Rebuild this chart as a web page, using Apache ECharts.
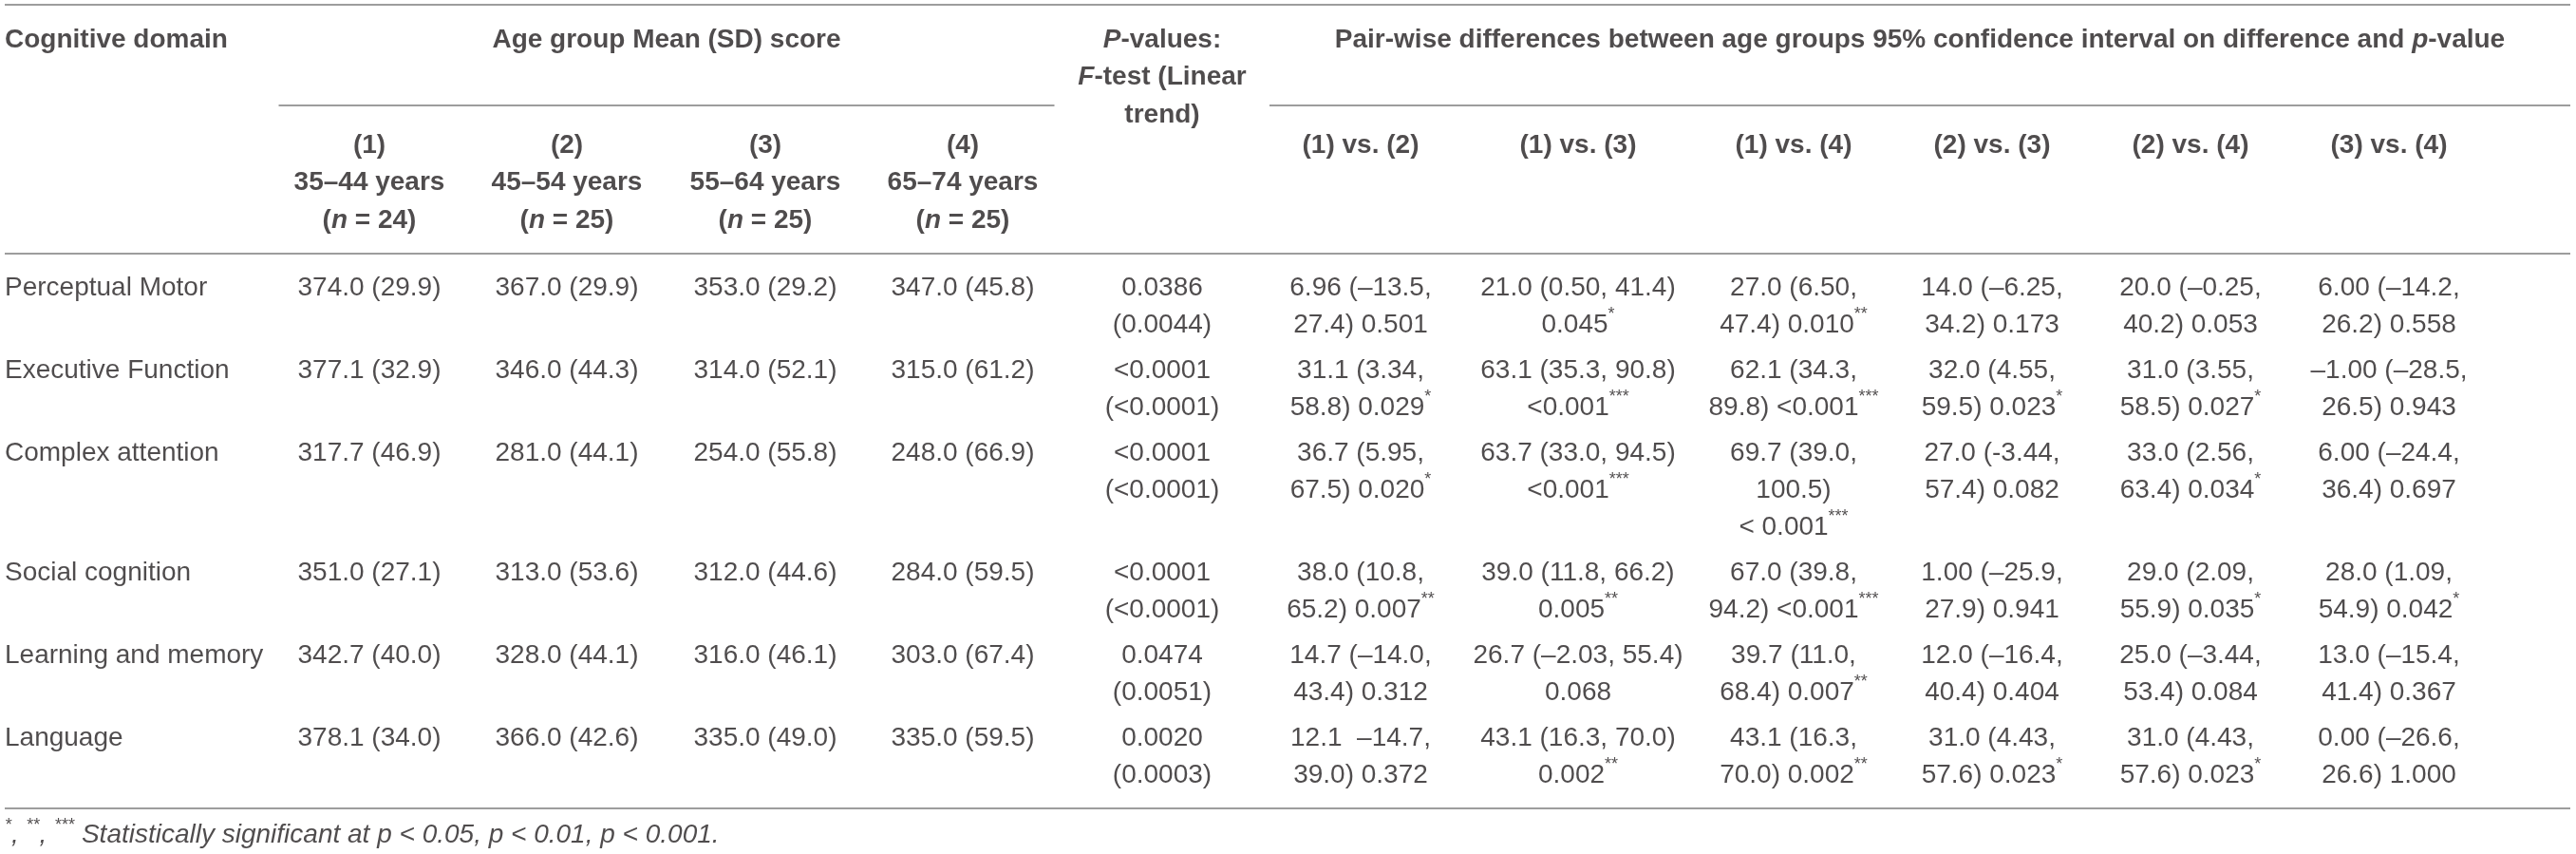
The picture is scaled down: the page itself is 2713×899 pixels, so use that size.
<!DOCTYPE html>
<html><head><meta charset="utf-8">
<script src="https://cdn.jsdelivr.net/npm/echarts@6/dist/echarts.min.js"></script>
<style>html,body{margin:0;padding:0;background:#fff}#c{width:2713px;height:899px}</style>
</head><body><div id="c"></div>
<script>
// ---------------- data ----------------
const domains = ["Perceptual Motor", "Executive Function", "Complex attention", "Social cognition", "Learning and memory", "Language"];
const groupLabels = ["(1)", "(2)", "(3)", "(4)"];
const groupAges = ["35–44 years", "45–54 years", "55–64 years", "65–74 years"];
const groupN = [24, 25, 25, 25];
const meanG1 = ["374.0 (29.9)", "377.1 (32.9)", "317.7 (46.9)", "351.0 (27.1)", "342.7 (40.0)", "378.1 (34.0)"];
const meanG2 = ["367.0 (29.9)", "346.0 (44.3)", "281.0 (44.1)", "313.0 (53.6)", "328.0 (44.1)", "366.0 (42.6)"];
const meanG3 = ["353.0 (29.2)", "314.0 (52.1)", "254.0 (55.8)", "312.0 (44.6)", "316.0 (46.1)", "335.0 (49.0)"];
const meanG4 = ["347.0 (45.8)", "315.0 (61.2)", "248.0 (66.9)", "284.0 (59.5)", "303.0 (67.4)", "335.0 (59.5)"];
const pTrend = ["0.0386 (0.0044)", "<0.0001 (<0.0001)", "<0.0001 (<0.0001)", "<0.0001 (<0.0001)", "0.0474 (0.0051)", "0.0020 (0.0003)"];
const pairLabels = ["(1) vs. (2)", "(1) vs. (3)", "(1) vs. (4)", "(2) vs. (3)", "(2) vs. (4)", "(3) vs. (4)"];
const diff12 = ["6.96 (–13.5, 27.4) 0.501", "31.1 (3.34, 58.8) 0.029*", "36.7 (5.95, 67.5) 0.020*", "38.0 (10.8, 65.2) 0.007**", "14.7 (–14.0, 43.4) 0.312", "12.1  –14.7, 39.0) 0.372"];
const diff13 = ["21.0 (0.50, 41.4) 0.045*", "63.1 (35.3, 90.8) <0.001***", "63.7 (33.0, 94.5) <0.001***", "39.0 (11.8, 66.2) 0.005**", "26.7 (–2.03, 55.4) 0.068", "43.1 (16.3, 70.0) 0.002**"];
const diff14 = ["27.0 (6.50, 47.4) 0.010**", "62.1 (34.3, 89.8) <0.001***", "69.7 (39.0, 100.5) < 0.001***", "67.0 (39.8, 94.2) <0.001***", "39.7 (11.0, 68.4) 0.007**", "43.1 (16.3, 70.0) 0.002**"];
const diff23 = ["14.0 (–6.25, 34.2) 0.173", "32.0 (4.55, 59.5) 0.023*", "27.0 (-3.44, 57.4) 0.082", "1.00 (–25.9, 27.9) 0.941", "12.0 (–16.4, 40.4) 0.404", "31.0 (4.43, 57.6) 0.023*"];
const diff24 = ["20.0 (–0.25, 40.2) 0.053", "31.0 (3.55, 58.5) 0.027*", "33.0 (2.56, 63.4) 0.034*", "29.0 (2.09, 55.9) 0.035*", "25.0 (–3.44, 53.4) 0.084", "31.0 (4.43, 57.6) 0.023*"];
const diff34 = ["6.00 (–14.2, 26.2) 0.558", "–1.00 (–28.5, 26.5) 0.943", "6.00 (–24.4, 36.4) 0.697", "28.0 (1.09, 54.9) 0.042*", "13.0 (–15.4, 41.4) 0.367", "0.00 (–26.6, 26.6) 1.000"];
const headDomain = "Cognitive domain";
const headAge = "Age group Mean (SD) score";
const headP = "P-values: F-test (Linear trend)";
const headPair = "Pair-wise differences between age groups 95% confidence interval on difference and p-value";
const footnote = "*, **, *** Statistically significant at p < 0.05, p < 0.01, p < 0.001.";

// ---------------- layout ----------------
const W = 2713, H = 899;
const FONT = "Liberation Sans";
const FS = 28, SFS = 18, SLH = 30;
const LH = 39, HLH = 39.5;
const COLOR = "#231f20", RULE = "#7d7d7d";
const tableLeft = 5, tableRight = 2707;
const colCenters = [389, 597, 806, 1014, 1224, 1433, 1662, 1889, 2098, 2307, 2516];
const colWrap = [200, 200, 200, 200, 160, 190, 235, 190, 190, 190, 190];
const inset = 8.5;
const topRuleY = 5, head1Center = 42, spanRuleY = 111, head2Center = 153, headRuleY = 267, bodyCenter = 303;
const rowGap = 9, bottomPad = 15.5, footGap = 28;

const rich = {
  s: { fontFamily: FONT, fontSize: SFS, lineHeight: SLH, verticalAlign: "top", color: COLOR },
  ib: { fontFamily: FONT, fontSize: FS, fontWeight: "bold", fontStyle: "italic", lineHeight: HLH, color: COLOR },
  fs: { fontFamily: FONT, fontSize: SFS, fontStyle: "italic", lineHeight: SLH, verticalAlign: "top", color: COLOR }
};

// word wrapping with the label font
const ctx = document.createElement("canvas").getContext("2d");
function measure(t, bold) {
  const m = t.match(/\*+$/);
  const main = m ? t.slice(0, -m[0].length) : t;
  ctx.font = (bold ? "bold " : "") + FS + "px '" + FONT + "'";
  let w = ctx.measureText(main).width;
  if (m) { ctx.font = SFS + "px '" + FONT + "'"; w += ctx.measureText(m[0]).width; }
  return w;
}
function wrap(text, width, bold) {
  const words = text.replace("< ", "<\u00a0").split(" ");
  const lines = [];
  let line = words[0];
  for (let i = 1; i < words.length; i++) {
    const cand = line + " " + words[i];
    if (words[i] === "" || measure(cand, bold) <= width) line = cand;
    else { lines.push(line); line = words[i]; }
  }
  lines.push(line);
  return lines;
}
const sup = t => t.replace(/(\*+)$/, "{s|$1}");

const pts = [];
function cell(x, y, txt, lab) {
  pts.push({ value: [x, y], txt: txt, label: lab });
}
const boldC = { align: "center", fontWeight: "bold", lineHeight: HLH };

// header row 1
cell(tableLeft, head1Center - HLH / 2, headDomain, { align: "left", fontWeight: "bold", lineHeight: HLH });
const b1 = colCenters[0] - (colCenters[1] - colCenters[0]) / 2 + inset;
const b5 = (colCenters[3] + colCenters[4]) / 2 - inset;
const b6 = (colCenters[4] + colCenters[5]) / 2 + inset;
cell((b1 + b5) / 2, head1Center - HLH / 2, headAge, boldC);
const pLines = wrap(headP, 190, true).map(l => l.replace(/^P-/, "{ib|P}-").replace("F-test", "{ib|F}-test"));
cell(colCenters[4], head1Center - HLH / 2, pLines.join("\n"), boldC);
cell((b6 + tableRight) / 2, head1Center - HLH / 2, headPair.replace("p-value", "{ib|p}-value"), boldC);
// header row 2
for (let g = 0; g < 4; g++) {
  cell(colCenters[g], head2Center - HLH / 2,
    groupLabels[g] + "\n" + groupAges[g] + "\n({ib|n} = " + groupN[g] + ")", boldC);
}
for (let k = 0; k < pairLabels.length; k++) {
  cell(colCenters[5 + k], head2Center - HLH / 2, pairLabels[k], boldC);
}
// body
const cols = [meanG1, meanG2, meanG3, meanG4, pTrend, diff12, diff13, diff14, diff23, diff24, diff34];
let y = bodyCenter - LH / 2;
for (let r = 0; r < domains.length; r++) {
  let n = 1;
  const texts = cols.map((arr, c) => {
    const lines = wrap(arr[r], colWrap[c], false);
    n = Math.max(n, lines.length);
    return lines.map(sup).join("\n");
  });
  cell(tableLeft, y, domains[r], { align: "left", lineHeight: LH });
  texts.forEach((t, c) => cell(colCenters[c], y, t, { align: "center", lineHeight: LH }));
  y += n * LH + rowGap;
}
const bottomRuleY = y - rowGap + bottomPad;
cell(tableLeft, bottomRuleY + footGap - LH / 2, footnote.replace(/\*+/g, m => "{fs|" + m + "}"),
  { align: "left", fontStyle: "italic", lineHeight: LH });

const rules = [
  [tableLeft, tableRight, topRuleY],
  [b1, b5, spanRuleY],
  [b6, tableRight, spanRuleY],
  [tableLeft, tableRight, headRuleY],
  [tableLeft, tableRight, bottomRuleY]
].map(r => ({ coords: [[r[0], r[2]], [r[1], r[2]]] }));

const chart = echarts.init(document.getElementById("c"), null, { renderer: "canvas" });
chart.setOption({
  animation: false,
  backgroundColor: "#ffffff",
  grid: { left: 0, right: 0, top: 0, bottom: 0 },
  xAxis: { type: "value", min: 0, max: W, show: false },
  yAxis: { type: "value", min: 0, max: H, inverse: true, show: false },
  series: [
    {
      type: "lines", coordinateSystem: "cartesian2d", silent: true, polyline: false,
      lineStyle: { color: RULE, width: 1.5, opacity: 1, curveness: 0 },
      data: rules
    },
    {
      type: "scatter", silent: true, symbolSize: 1, itemStyle: { color: "rgba(0,0,0,0)" },
      clip: false,
      label: {
        show: true, position: "inside", verticalAlign: "top",
        fontFamily: FONT, fontSize: FS, color: COLOR,
        formatter: p => p.data.txt, rich: rich
      },
      data: pts
    }
  ]
});
</script></body></html>
